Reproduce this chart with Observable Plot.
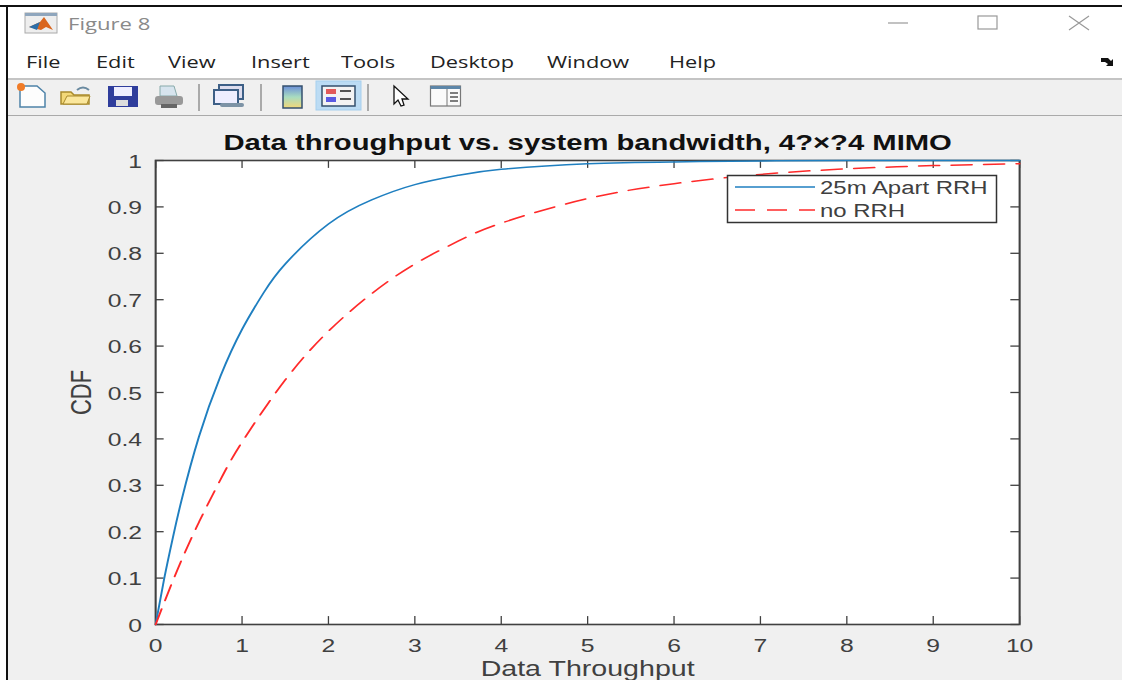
<!DOCTYPE html>
<html><head><meta charset="utf-8">
<script src="https://cdn.jsdelivr.net/npm/d3@7"></script>
<script src="https://cdn.jsdelivr.net/npm/@observablehq/plot@0.6"></script>
<style>
html,body{margin:0;padding:0;background:#fff;overflow:hidden}
#stage{position:relative;width:1122px;height:680px;overflow:hidden;background:#fff;font-family:"Open Sans","Noto Sans",sans-serif}
.abs{position:absolute}
.t{position:absolute;white-space:nowrap;transform-origin:left center;line-height:20px;height:20px}
#fig{position:absolute;left:8px;top:116px;width:1114px;height:564px;background:#f0f0f0}
#plotwrap{position:absolute;left:0;top:116px;transform-origin:0 0;transform:scaleX(1.3)}
#plotwrap svg{display:block;background:transparent;overflow:visible}
#chrome{position:absolute;left:0;top:0;width:1122px;height:680px}
</style></head><body>
<div id="stage">
<div class="abs" style="left:0;top:5px;width:1122px;height:2px;background:#111"></div>
<div class="abs" style="left:6px;top:5px;width:2px;height:675px;background:#111"></div>
<div class="abs" style="left:8px;top:79px;width:1114px;height:36px;background:#f0f0f0"></div>
<div class="abs" style="left:8px;top:78px;width:1114px;height:2px;background:#c4c4c4"></div>
<div class="abs" style="left:8px;top:115px;width:1114px;height:1px;background:#aaa"></div>
<div id="fig"></div>
<div id="plotwrap"></div>
<div id="chrome"></div>
</div>
<script>
const xTicks = [0,1,2,3,4,5,6,7,8,9,10];
const yTicks = [0,0.1,0.2,0.3,0.4,0.5,0.6,0.7,0.8,0.9,1];
const blueX = [0,0.1,0.2,0.3,0.5,0.75,1,1.25,1.5,2,2.5,3,3.5,4,5,6,7,8,10];
const blueY = [0,0.1,0.188,0.268,0.404,0.535,0.636,0.715,0.777,0.863,0.915,0.948,0.968,0.981,0.993,0.997,0.999,1,1];
const redX = [0,0.25,0.5,0.75,1,1.5,2,2.5,3,3.5,4,5,6,7,8,9,10];
const redY = [0,0.117,0.22,0.312,0.393,0.527,0.632,0.713,0.777,0.826,0.865,0.918,0.95,0.97,0.982,0.989,0.993];
const seriesNames = ["25m Apart RRH","no RRH"];
const seriesColors = ["#1f7fc0","#ff2a2a"];
const menuNames = ["File","Edit","View","Insert","Tools","Desktop","Window","Help"];
const menuLefts = [26,96,168,251,341,430,547,669];
const titleText = "Data throughput vs. system bandwidth, 4?×?4 MIMO";

const S = 1.3;
const sans = '"Liberation Sans",Arial,sans-serif';
const blue = blueX.map((x,i)=>({x,y:blueY[i]}));
const red = redX.map((x,i)=>({x,y:redY[i]}));
const fmt = d => String(d);

const chart = Plot.plot({
  width: 1122/S, height: 564,
  marginLeft: 155/S, marginRight: 103/S, marginTop: 44, marginBottom: 56,
  style:{background:"transparent",fontFamily:sans,overflow:"visible"},
  x:{domain:[0,10],ticks:xTicks},
  y:{domain:[0,1],ticks:yTicks},
  marks:[
    Plot.frame({fill:"#fff",stroke:"none"}),
    Plot.ruleX(xTicks,{y1:0,y2:0.017,stroke:"#404040",strokeWidth:1}),
    Plot.ruleX(xTicks,{y1:1,y2:0.983,stroke:"#404040",strokeWidth:1}),
    Plot.ruleY(yTicks,{x1:0,x2:0.1,stroke:"#404040",strokeWidth:1.3}),
    Plot.ruleY(yTicks,{x1:10,x2:9.9,stroke:"#404040",strokeWidth:1.3}),
    Plot.frame({stroke:"#404040",strokeWidth:1.6}),
    Plot.line(blue,{x:"x",y:"y",stroke:seriesColors[0],strokeWidth:1.5,curve:"natural"}),
    Plot.line(red,{x:"x",y:"y",stroke:seriesColors[1],strokeWidth:1.5,strokeDasharray:"16,9",curve:"natural"}),
    Plot.axisX(xTicks,{anchor:"bottom",tickSize:0,tickPadding:14,fontSize:19,fill:"#404040",label:null,tickFormat:fmt}),
    Plot.axisY(yTicks,{anchor:"left",tickSize:0,tickPadding:10.5,fontSize:19,fill:"#404040",label:null,tickFormat:fmt,dy:1}),
    Plot.text([titleText],{frameAnchor:"top",dy:-26,fontSize:22.5,fontWeight:"bold",fill:"#111"}),
    Plot.text(["Data Throughput"],{frameAnchor:"bottom",dy:52,fontSize:22,fill:"#404040"}),
    Plot.text(["CDF"],{frameAnchor:"left",dx:-57,rotate:-90,textAnchor:"middle",fontSize:22,fill:"#404040"})
  ]
});
document.getElementById("plotwrap").appendChild(chart);

const chrome = document.getElementById("chrome");
const ui = document.createElementNS("http://www.w3.org/2000/svg","svg");
ui.setAttribute("width",1122);ui.setAttribute("height",680);
ui.style.cssText="position:absolute;left:0;top:0;pointer-events:none";
ui.innerHTML = `
<rect x="727.5" y="175.5" width="269" height="47" fill="#fff" stroke="#333" stroke-width="1.5"/>
<line x1="735" x2="815" y1="187" y2="187" stroke="${seriesColors[0]}" stroke-width="1.6"/>
<line x1="735" x2="815" y1="210" y2="210" stroke="${seriesColors[1]}" stroke-width="1.6" stroke-dasharray="20,12"/>
<!-- window buttons -->
<line x1="888" x2="908" y1="23" y2="23" stroke="#999" stroke-width="1.2"/>
<rect x="978" y="16" width="19" height="13" fill="none" stroke="#999" stroke-width="1.2"/>
<path d="M1069 16L1089 30M1089 16L1069 30" stroke="#999" stroke-width="1.2"/>
<path d="M1101 58h7l3 3 2-2v7h-7l2-2-3-2h-4z" fill="#111"/>
<!-- matlab logo -->
<rect x="25" y="13" width="32" height="20" fill="#eee" stroke="#aaa"/>
<rect x="25" y="13" width="32" height="3" fill="#8fa6bd"/>
<path d="M29 27L40 22L44 17L53 30L46 27L41 30Z" fill="#d9661f"/>
<path d="M29 27L40 22L37 30Z" fill="#2c6ea8"/>
<!-- toolbar -->
<path d="M20 86h17l8 7v14H20z" fill="#fdfdfd" stroke="#4d82a8" stroke-width="1.5"/>
<circle cx="21" cy="87" r="4" fill="#f07c28"/>
<path d="M61 104V92h10l3 3h15v9z" fill="#f3d878" stroke="#a98a2c" stroke-width="1.5"/>
<path d="M63 104l4-8h23l-3 8z" fill="#fbe79c" stroke="#a98a2c"/>
<path d="M77 90q6-5 12 0" fill="none" stroke="#6a8aa0" stroke-width="2"/>
<rect x="108" y="86" width="30" height="21" fill="#2f3d9c"/>
<rect x="114" y="87" width="18" height="9" fill="#eef"/>
<rect x="116" y="100" width="12" height="6" fill="#ddd"/>
<path d="M160 96V86h14l3 10z" fill="#d7e4ee" stroke="#8aa" />
<rect x="155" y="96" width="28" height="9" rx="3" fill="#999"/>
<rect x="161" y="104" width="16" height="4" fill="#666"/>
<line x1="199" x2="199" y1="84" y2="111" stroke="#aaa" stroke-width="2"/>
<rect x="219" y="85" width="24" height="14" fill="#dde" stroke="#3d5f86" stroke-width="2"/>
<rect x="214" y="90" width="24" height="14" fill="#eef" stroke="#3d5f86" stroke-width="2"/>
<path d="M222 105h20" stroke="#7d93a6" stroke-width="4" stroke-linecap="round"/>
<line x1="261" x2="261" y1="84" y2="111" stroke="#aaa" stroke-width="2"/>
<defs><linearGradient id="cb" x1="0" y1="0" x2="0" y2="1"><stop offset="0" stop-color="#6c8fd8"/><stop offset=".5" stop-color="#a8dcc0"/><stop offset="1" stop-color="#f2d878"/></linearGradient></defs>
<rect x="283" y="86" width="19" height="22" fill="url(#cb)" stroke="#35506e" stroke-width="1.5"/>
<rect x="316" y="81" width="45" height="29" fill="#bcdcf4" stroke="#a6cfee"/>
<rect x="322" y="86" width="33" height="20" fill="#f3f3f3" stroke="#35506e" stroke-width="1.5"/>
<rect x="326" y="89" width="10" height="5" fill="#e25a5a"/>
<rect x="326" y="97" width="10" height="5" fill="#5a5ae2"/>
<path d="M340 91h11M340 99h11" stroke="#222" stroke-width="1.5"/>
<line x1="368" x2="368" y1="84" y2="111" stroke="#aaa" stroke-width="2"/>
<path d="M394 86v18l4-4l3 6l3-1l-2-6h6z" fill="#fff" stroke="#111" stroke-width="1.3"/>
<rect x="430.5" y="86" width="30" height="20" fill="#fafafa" stroke="#777" stroke-width="1.2"/>
<rect x="430.5" y="86" width="30" height="3" fill="#5d86a8"/>
<line x1="447" x2="447" y1="89" y2="106" stroke="#777"/>
<path d="M450 93h8M450 97h8M450 101h8" stroke="#555" stroke-width="1.5"/>
`;
chrome.appendChild(ui);
function addText(txt,left,cy,size,color,fam,sx,weight){
  const e=document.createElement("div");e.className="t";e.textContent=txt;
  e.style.cssText=`left:${left}px;top:${cy-10}px;font-size:${size}px;color:${color};font-family:${fam};transform:scaleX(${sx});font-weight:${weight||"normal"}`;
  chrome.appendChild(e);
}
addText("Figure 8",68,24,17,"#8a8a8a",'"Open Sans",sans-serif',1.3);
menuNames.forEach((m,i)=>addText(m,menuLefts[i],62,17,"#222",'"Open Sans",sans-serif',1.28));
addText(seriesNames[0],820,188,18,"#404040",sans,1.33);
addText(seriesNames[1],820,211,18,"#404040",sans,1.33);
</script>
</body></html>
